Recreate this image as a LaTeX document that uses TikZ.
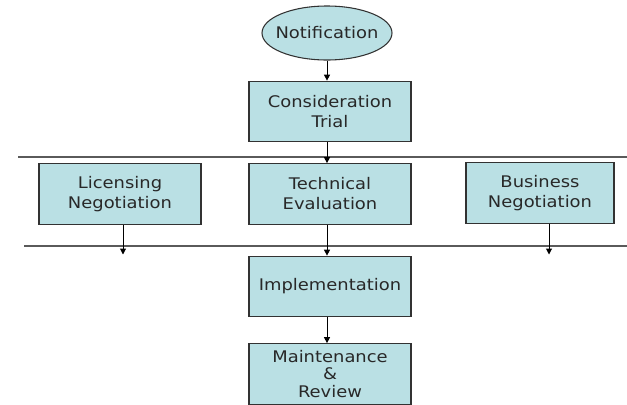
\documentclass[tikz,border=0pt]{standalone}
\usepackage{fontspec}
\setmainfont[FakeStretch=1.12]{DejaVu Sans}
\usetikzlibrary{shapes.geometric,arrows.meta}
\definecolor{boxfill}{RGB}{186,224,228}
\definecolor{boxline}{RGB}{50,50,50}
\definecolor{rule}{RGB}{90,90,90}
\definecolor{txt}{RGB}{40,40,40}
\begin{document}
\begin{tikzpicture}[x=0.75pt,y=-0.75pt,
  stepbox/.style={draw=boxline,fill=boxfill,line width=0.8pt,align=center,
    inner sep=0pt,minimum width=121.5pt,minimum height=45.5pt,
    text=txt,font=\fontsize{12}{15}\selectfont},
  oval/.style={ellipse,draw=boxline,fill=boxfill,line width=0.8pt,inner sep=0pt,
    minimum width=97.5pt,minimum height=40.5pt,text=txt,font=\fontsize{12}{15}\selectfont},
  flow/.style={draw=black,line width=0.75pt,-{Triangle[width=4.5pt,length=4.5pt]}},
  hrule/.style={draw=rule,line width=1.1pt}]
\useasboundingbox (0,0) rectangle (627,404);
\node[oval] (notif) at (327,33) {\makebox[0pt]{Notification}};
\node[stepbox] (consid) at (330,111.5) {Consideration\\Trial};
\node[stepbox] (lic) at (120,194) {Licensing\\Negotiation};
\node[stepbox] (tech) at (330,194) {Technical\\Evaluation};
\node[stepbox,minimum width=111pt] (bus) at (540,193) {Business\\Negotiation};
\node[stepbox] (impl) at (330,286.5) {Implementation};
\node[stepbox,font=\fontsize{12}{13}\selectfont] (maint) at (330,374) {Maintenance\\\&\\Review};
\coordinate (topl) at (18,157);
\coordinate (topr) at (627,157);
\coordinate (botl) at (24,246);
\coordinate (botr) at (627,246);
\coordinate (lictip) at (123,254.5);
\coordinate (bustip) at (549,254.5);
\draw[hrule] (topl) -- (topr);
\draw[hrule] (botl) -- (botr);
\draw[flow] (notif.south) -- (notif.south |- consid.north);
\draw[flow] (notif.south |- consid.south) -- (notif.south |- tech.north);
\draw[flow] (notif.south |- tech.south) -- (notif.south |- impl.north);
\draw[flow] (notif.south |- impl.south) -- (notif.south |- maint.north);
\draw[flow] (lictip |- lic.south) -- (lictip);
\draw[flow] (bustip |- bus.south) -- (bustip);
\end{tikzpicture}
\end{document}
